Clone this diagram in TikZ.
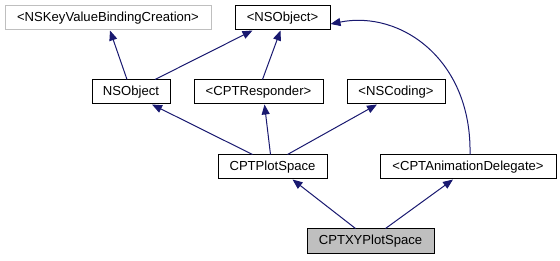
\documentclass[tikz,border=0pt]{standalone}
\usepackage{fontspec}
\setmainfont{Liberation Sans}
\usetikzlibrary{arrows.meta,calc}
\definecolor{edgeblue}{HTML}{191970}
\definecolor{lightframe}{HTML}{BFBFBF}
\definecolor{hilite}{HTML}{BFBFBF}
\begin{document}
\begin{tikzpicture}[x=1pt,y=-1pt,
  cls/.style={draw=black,line width=1pt,rectangle,minimum height=24pt,inner sep=0pt,
    font=\fontsize{13.1}{15}\selectfont},
  ext/.style={cls,draw=lightframe},
  cur/.style={cls,fill=hilite,minimum height=25pt},
  inh/.style={draw=edgeblue,line width=1pt,-{Triangle[length=10pt,width=8pt]}}]
\useasboundingbox (0,0) rectangle (560,261);
% class boxes
\node[ext,minimum width=206pt] (kvb)  at (108,18)    {<NSKeyValueBindingCreation>};
\node[cls,minimum width=95pt]  (nsp)  at (282.5,18)  {<NSObject>};
\node[cls,minimum width=78pt]  (nso)  at (131,92)    {NSObject};
\node[cls,minimum width=129pt] (resp) at (258.5,92)  {<CPTResponder>};
\node[cls,minimum width=98pt]  (cod)  at (396,92)    {<NSCoding>};
\node[cls,minimum width=109pt] (ps)   at (272.5,167) {CPTPlotSpace};
\node[cls,minimum width=176pt] (anim) at (468,167)   {<CPTAnimationDelegate>};
\node[cur,minimum width=127pt] (xy)   at (370.5,241.5) {CPTXYPlotSpace};
% inheritance edges
\draw[inh] ($(nso.north)+(-4,0)$) -- ($(kvb.south)+(2,0)$);
\draw[inh] ($(nso.north)+(24,0)$) -- ($(nsp.south)+(-30,0)$);
\draw[inh] ($(resp.north)+(4,0)$) -- ($(nsp.south)+(-2,0)$);
\draw[inh] ($(ps.north)+(-20,0)$) -- ($(nso.south)+(21,0)$);
\draw[inh] ($(ps.north)+(-2,0)$) -- ($(resp.south)+(6,0)$);
\draw[inh] ($(ps.north)+(15,0)$) -- ($(cod.south)+(-19,0)$);
\draw[inh] ($(anim.north)+(2,0)$) .. controls ($(anim.north)+(4,-95)$) and ($(nsp.east)+(70,-8)$) .. ($(nsp.east)+(0,6)$);
\draw[inh] ($(xy.north)+(-15,0)$) -- ($(ps.south)+(20,0)$);
\draw[inh] ($(xy.north)+(15,0)$) -- ($(anim.south)+(-15,0)$);
\end{tikzpicture}
\end{document}
